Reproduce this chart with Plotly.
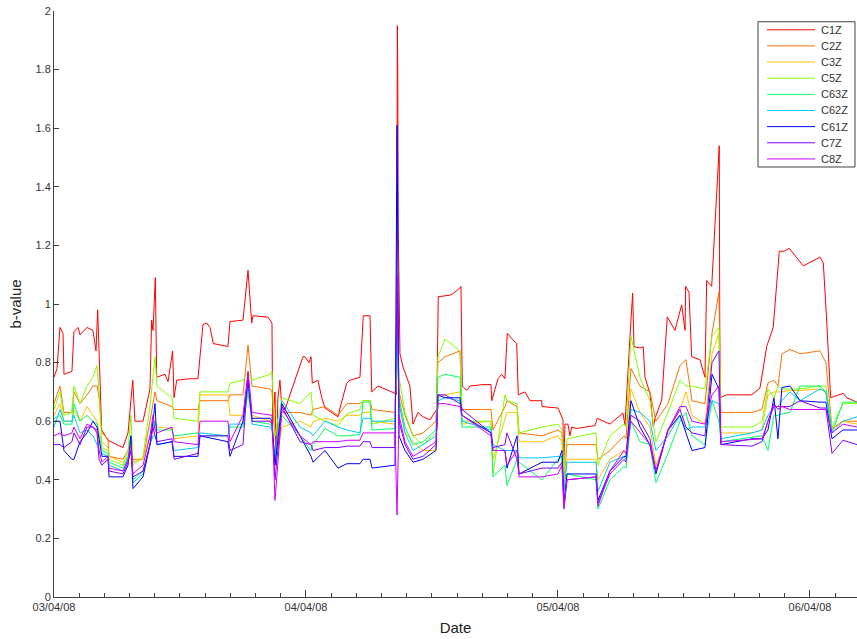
import pandas as pd
import plotly.graph_objects as go

start = pd.Timestamp("2008-04-03 00:00")

# C1Z has its own, finer time base (hours after 03/04/08 00:00)
c1z_hours = [0.0, 0.29, 0.57, 0.86, 0.95, 1.71, 1.90, 2.29, 2.48, 3.14, 3.71, 4.00, 4.16, 4.29, 4.54, 5.14,
             6.57, 7.05, 7.50, 7.71, 8.48, 9.14, 9.30, 9.43, 9.65, 9.78, 10.57, 10.86, 11.30, 11.43, 11.69,
             12.95, 13.71, 14.19, 14.54, 14.86, 15.17, 16.57, 16.76, 18.00, 18.48, 18.83, 18.95, 20.38,
             20.76, 20.83, 21.05, 21.14, 21.33, 21.52, 21.69, 22.00, 23.71, 23.90, 24.29, 24.48, 24.60,
             25.14, 25.50, 25.81, 27.05, 27.24, 27.88, 28.19, 29.14, 29.46, 30.10, 30.26, 30.86, 32.48,
             32.62, 32.70, 32.74, 32.79, 32.95, 33.24, 33.90, 34.19, 34.67, 35.14, 35.81, 36.45, 36.60,
             37.71, 38.00, 38.67, 38.76, 38.89, 39.30, 39.62, 40.86, 41.62, 41.69, 42.29, 42.64, 42.95,
             43.17, 43.71, 44.07, 44.22, 44.86, 45.33, 46.45, 46.48, 48.00, 48.48, 48.52, 48.67, 48.95,
             49.14, 49.30, 49.78, 51.52, 51.74, 52.95, 54.19, 54.38, 54.86, 55.11, 55.24, 55.81, 56.12,
             56.29, 56.76, 57.08, 57.24, 57.88, 58.41, 59.14, 59.78, 60.10, 60.16, 60.48, 60.73, 61.52,
             62.00, 62.16, 62.64, 63.36, 63.43, 64.07, 66.45, 67.24, 67.88, 68.50, 69.08, 69.52, 70.03,
             71.36, 72.95, 73.27, 73.59, 73.97, 75.17, 75.50, 76.48]
c1z = [0.75, 0.78, 0.92, 0.90, 0.76, 0.77, 0.905, 0.92, 0.895, 0.92, 0.91, 0.84, 0.98, 0.855, 0.57, 0.535,
       0.51, 0.56, 0.74, 0.60, 0.60, 0.71, 0.945, 0.91, 1.09, 0.75, 0.76, 0.735, 0.84, 0.68, 0.74,
       0.745, 0.745, 0.93, 0.935, 0.92, 0.865, 0.855, 0.94, 0.945, 1.115, 0.935, 0.96, 0.955,
       0.935, 0.59, 0.70, 0.45, 0.68, 0.74, 0.65, 0.64, 0.82, 0.82, 0.80, 0.82, 0.73,
       0.74, 0.68, 0.645, 0.615, 0.645, 0.73, 0.74, 0.75, 0.96, 0.96, 0.70, 0.72, 0.695,
       0.69, 1.95, 1.80, 1.26, 0.83, 0.785, 0.72, 0.59, 0.63, 0.615, 0.605, 0.64, 1.025,
       1.03, 1.035, 1.055, 1.06, 0.72, 0.705, 0.72, 0.725, 0.725, 0.67, 0.745, 0.76, 0.745,
       0.90, 0.877, 0.866, 0.69, 0.70, 0.67, 0.67, 0.65, 0.645, 0.605, 0.42, 0.59, 0.59,
       0.55, 0.58, 0.575, 0.585, 0.61, 0.59, 0.628, 0.587, 0.888, 1.037, 0.854, 0.85, 0.854,
       0.75, 0.695, 0.58, 0.61, 0.672, 0.956, 0.91, 0.997, 0.91, 1.06, 1.04, 0.82, 0.81,
       0.75, 1.08, 1.06, 1.54, 0.68, 0.69, 0.69, 0.713, 0.855, 0.92, 1.18, 1.18, 1.19,
       1.13, 1.16, 1.14, 0.945, 0.68, 0.695, 0.68, 0.665]

# shared time base for the other stations
hours = [0.0, 0.57, 0.95, 1.71, 1.90, 2.48, 3.14, 3.71, 4.10, 4.29,
         4.57, 5.14, 5.24, 6.57, 7.05, 7.33, 7.52, 8.48, 9.14, 9.43,
         9.62, 9.81, 11.24, 11.43, 13.71, 13.90, 16.57, 16.76, 18.00, 18.48,
         18.86, 20.57, 20.76, 21.05, 21.71, 23.43, 24.48, 24.67, 25.81, 27.05,
         27.90, 29.14, 29.43, 30.10, 30.29, 32.48, 32.67, 32.86, 33.43, 34.19,
         35.14, 36.38, 36.57, 37.24, 38.67, 38.86, 41.62, 41.81, 42.95, 43.14,
         44.10, 44.29, 46.48, 48.00, 48.38, 48.57, 48.86, 51.62, 51.81, 52.95,
         54.29, 54.48, 54.95, 55.81, 56.76, 57.33, 58.48, 59.62, 60.19, 60.76,
         62.00, 62.67, 63.33, 63.52, 66.48, 67.43, 68.00, 68.57, 68.95, 69.33,
         70.10, 71.05, 72.95, 73.52, 74.10, 75.14, 76.48]

c2z = [0.66, 0.72, 0.63, 0.63, 0.70, 0.66, 0.69, 0.72, 0.72, 0.68,
       0.56, 0.54, 0.48, 0.47, 0.50, 0.55, 0.47, 0.47, 0.60, 0.66,
       0.70, 0.67, 0.65, 0.64, 0.64, 0.67, 0.67, 0.69, 0.69, 0.86,
       0.72, 0.71, 0.70, 0.55, 0.63, 0.63, 0.62, 0.64, 0.65, 0.62,
       0.66, 0.66, 0.67, 0.67, 0.64, 0.63, 1.05, 0.70, 0.62, 0.55,
       0.56, 0.60, 0.80, 0.82, 0.84, 0.64, 0.64, 0.57, 0.65, 0.67,
       0.65, 0.56, 0.55, 0.57, 0.56, 0.40, 0.52, 0.52, 0.47, 0.50,
       0.55, 0.54, 0.78, 0.72, 0.70, 0.60, 0.66, 0.79, 0.81, 0.67,
       0.66, 0.90, 1.04, 0.63, 0.63, 0.64, 0.73, 0.74, 0.72, 0.83,
       0.845, 0.83, 0.84, 0.80, 0.575, 0.60, 0.60]
c3z = [0.62, 0.66, 0.60, 0.60, 0.64, 0.60, 0.65, 0.62, 0.60, 0.56,
       0.53, 0.51, 0.48, 0.46, 0.48, 0.52, 0.46, 0.47, 0.55, 0.60,
       0.60, 0.58, 0.575, 0.54, 0.55, 0.69, 0.69, 0.62, 0.62, 0.75,
       0.62, 0.60, 0.60, 0.45, 0.58, 0.60, 0.58, 0.60, 0.61, 0.60,
       0.62, 0.62, 0.63, 0.63, 0.60, 0.59, 0.95, 0.68, 0.56, 0.53,
       0.50, 0.50, 0.68, 0.69, 0.70, 0.59, 0.60, 0.47, 0.60, 0.63,
       0.63, 0.53, 0.53, 0.55, 0.53, 0.38, 0.47, 0.47, 0.40, 0.47,
       0.50, 0.49, 0.71, 0.63, 0.58, 0.45, 0.56, 0.64, 0.70, 0.62,
       0.59, 0.83, 0.90, 0.56, 0.56, 0.57, 0.69, 0.70, 0.70, 0.70,
       0.705, 0.705, 0.71, 0.70, 0.57, 0.60, 0.59]
c5z = [0.64, 0.70, 0.62, 0.63, 0.72, 0.66, 0.72, 0.75, 0.79, 0.70,
       0.51, 0.50, 0.47, 0.45, 0.50, 0.62, 0.45, 0.48, 0.65, 0.75,
       0.82, 0.72, 0.68, 0.61, 0.60, 0.70, 0.70, 0.73, 0.74, 0.77,
       0.74, 0.76, 0.77, 0.55, 0.68, 0.66, 0.70, 0.62, 0.60, 0.585,
       0.625, 0.64, 0.67, 0.67, 0.59, 0.61, 1.0, 0.75, 0.63, 0.55,
       0.52, 0.56, 0.82, 0.88, 0.84, 0.60, 0.60, 0.42, 0.69, 0.67,
       0.66, 0.56, 0.58, 0.59, 0.57, 0.42, 0.54, 0.56, 0.45, 0.55,
       0.59, 0.58, 0.89, 0.75, 0.67, 0.53, 0.63, 0.74, 0.72, 0.72,
       0.71, 0.89, 0.92, 0.58, 0.58, 0.60, 0.71, 0.68, 0.72, 0.71,
       0.71, 0.71, 0.72, 0.72, 0.58, 0.66, 0.66]
c63z = [0.61, 0.62, 0.59, 0.59, 0.66, 0.60, 0.62, 0.60, 0.59, 0.55,
        0.50, 0.49, 0.46, 0.44, 0.48, 0.55, 0.40, 0.43, 0.52, 0.58,
        0.60, 0.57, 0.57, 0.55, 0.56, 0.55, 0.55, 0.58, 0.58, 0.70,
        0.60, 0.59, 0.58, 0.46, 0.62, 0.55, 0.50, 0.52, 0.575, 0.55,
        0.55, 0.555, 0.665, 0.665, 0.57, 0.575, 0.90, 0.68, 0.58, 0.52,
        0.53, 0.57, 0.75, 0.76, 0.75, 0.58, 0.58, 0.41, 0.45, 0.38,
        0.47, 0.46, 0.40, 0.47, 0.48, 0.30, 0.42, 0.40, 0.30, 0.40,
        0.445, 0.44, 0.60, 0.53, 0.52, 0.39, 0.49, 0.60, 0.63, 0.55,
        0.52, 0.67, 0.60, 0.53, 0.547, 0.55, 0.50, 0.62, 0.62, 0.625,
        0.63, 0.72, 0.72, 0.70, 0.56, 0.665, 0.665]
c62z = [0.58, 0.64, 0.60, 0.60, 0.62, 0.56, 0.57, 0.55, 0.52, 0.50,
        0.49, 0.48, 0.45, 0.43, 0.47, 0.50, 0.39, 0.42, 0.52, 0.55,
        0.55, 0.52, 0.53, 0.50, 0.51, 0.56, 0.55, 0.59, 0.59, 0.72,
        0.59, 0.58, 0.57, 0.48, 0.67, 0.58, 0.56, 0.55, 0.60, 0.58,
        0.57, 0.56, 0.61, 0.61, 0.60, 0.60, 0.95, 0.66, 0.56, 0.50,
        0.52, 0.55, 0.67, 0.68, 0.67, 0.60, 0.57, 0.52, 0.50, 0.50,
        0.50, 0.475, 0.475, 0.48, 0.48, 0.36, 0.46, 0.46, 0.36, 0.46,
        0.48, 0.47, 0.64, 0.63, 0.60, 0.50, 0.55, 0.62, 0.57, 0.58,
        0.58, 0.67, 0.66, 0.54, 0.56, 0.57, 0.62, 0.65, 0.65, 0.67,
        0.70, 0.67, 0.71, 0.70, 0.56, 0.60, 0.615]
c61z = [0.60, 0.60, 0.50, 0.47, 0.47, 0.53, 0.56, 0.60, 0.58, 0.54,
        0.48, 0.48, 0.41, 0.41, 0.45, 0.55, 0.37, 0.41, 0.52, 0.60,
        0.66, 0.52, 0.53, 0.48, 0.48, 0.55, 0.53, 0.48, 0.60, 0.74,
        0.61, 0.61, 0.60, 0.45, 0.66, 0.55, 0.48, 0.46, 0.50, 0.44,
        0.455, 0.455, 0.47, 0.47, 0.44, 0.45, 1.61, 0.55, 0.50, 0.46,
        0.47, 0.50, 0.69, 0.68, 0.68, 0.62, 0.56, 0.50, 0.50, 0.44,
        0.55, 0.42, 0.46, 0.46, 0.50, 0.32, 0.42, 0.42, 0.33, 0.43,
        0.48, 0.48, 0.67, 0.58, 0.52, 0.42, 0.57, 0.62, 0.56, 0.50,
        0.51, 0.76, 0.71, 0.52, 0.54, 0.54, 0.57, 0.68, 0.54, 0.715,
        0.72, 0.67, 0.665, 0.665, 0.54, 0.57, 0.57]
c7z = [0.52, 0.52, 0.51, 0.53, 0.56, 0.52, 0.58, 0.58, 0.56, 0.47,
       0.45, 0.47, 0.43, 0.42, 0.46, 0.50, 0.41, 0.43, 0.52, 0.58,
       0.55, 0.53, 0.54, 0.47, 0.49, 0.55, 0.55, 0.50, 0.52, 0.76,
       0.60, 0.60, 0.59, 0.40, 0.65, 0.53, 0.52, 0.50, 0.51, 0.51,
       0.515, 0.515, 0.53, 0.53, 0.51, 0.51, 1.10, 0.60, 0.52, 0.47,
       0.48, 0.52, 0.69, 0.69, 0.66, 0.64, 0.56, 0.51, 0.52, 0.56,
       0.47, 0.42, 0.44, 0.44, 0.46, 0.31, 0.40, 0.41, 0.32, 0.42,
       0.47, 0.46, 0.62, 0.60, 0.54, 0.43, 0.57, 0.64, 0.58, 0.56,
       0.55, 0.80, 0.84, 0.52, 0.515, 0.53, 0.60, 0.66, 0.64, 0.65,
       0.65, 0.67, 0.645, 0.645, 0.49, 0.535, 0.52]
c8z = [0.55, 0.56, 0.55, 0.56, 0.58, 0.54, 0.59, 0.58, 0.57, 0.50,
       0.46, 0.48, 0.44, 0.43, 0.47, 0.52, 0.42, 0.45, 0.55, 0.62,
       0.57, 0.56, 0.58, 0.53, 0.52, 0.60, 0.60, 0.53, 0.62, 0.77,
       0.63, 0.62, 0.62, 0.33, 0.64, 0.55, 0.52, 0.53, 0.53, 0.53,
       0.535, 0.535, 0.56, 0.56, 0.56, 0.56, 0.28, 0.62, 0.53, 0.48,
       0.50, 0.53, 0.66, 0.66, 0.65, 0.62, 0.55, 0.50, 0.50, 0.45,
       0.50, 0.41, 0.41, 0.42, 0.45, 0.30, 0.40, 0.41, 0.31, 0.43,
       0.50, 0.49, 0.60, 0.56, 0.52, 0.43, 0.57, 0.65, 0.65, 0.60,
       0.59, 0.69, 0.72, 0.53, 0.536, 0.54, 0.60, 0.65, 0.65, 0.65,
       0.64, 0.64, 0.64, 0.64, 0.56, 0.59, 0.58]

names = ["C1Z", "C2Z", "C3Z", "C5Z", "C63Z", "C62Z", "C61Z", "C7Z", "C8Z"]
colors = ["#FF0000", "#FF7000", "#FFC000", "#80FF00", "#00FF60", "#00C8FF", "#0000FF", "#8000FF", "#D000FF"]
series = [c1z, c2z, c3z, c5z, c63z, c62z, c61z, c7z, c8z]

t_c1 = start + pd.to_timedelta(c1z_hours, unit="h")
t = start + pd.to_timedelta(hours, unit="h")

fig = go.Figure()
for name, col, vals in zip(names, colors, series):
    assert len(vals) == (len(c1z_hours) if name == "C1Z" else len(hours)), name
    fig.add_trace(go.Scatter(x=t_c1 if name == "C1Z" else t, y=vals, mode="lines", name=name,
                             line=dict(color=col, width=1), showlegend=False))

axcol = "#404040"

# matlab-style legend box, drawn by hand (plotly rows are too tall)
leg_x0, leg_x1 = 0.8767, 0.9975
leg_top, leg_bot = 0.9817, 0.7338
row = (leg_top - leg_bot) / len(names)
fig.add_shape(type="rect", xref="paper", yref="paper", x0=leg_x0, x1=leg_x1, y0=leg_bot, y1=leg_top,
              line=dict(color=axcol, width=1), fillcolor="white", layer="above")
for i, (name, col) in enumerate(zip(names, colors)):
    yy = leg_top - (i + 0.5) * row
    fig.add_shape(type="line", xref="paper", yref="paper", x0=0.8879, x1=0.9477, y0=yy, y1=yy,
                  line=dict(color=col, width=1), layer="above")
    fig.add_annotation(xref="paper", yref="paper", x=0.9527, y=yy, text=name, showarrow=False,
                       xanchor="left", yanchor="middle", font=dict(size=11, color="#333333"))

fig.update_layout(
    width=857, height=639,
    margin=dict(l=54, r=0, t=11, b=42),
    paper_bgcolor="white", plot_bgcolor="white",
    font=dict(family="Liberation Sans, Arial, sans-serif", size=11, color="#333333"),
    showlegend=False,
)
fig.update_xaxes(
    range=[start, start + pd.Timedelta(hours=76.48)],
    showgrid=False, zeroline=False, showline=True, linecolor=axcol, linewidth=1,
    ticks="inside", ticklen=7, tickcolor=axcol,
    tick0=start, dtick=86400000, tickformat="%d/%m/%y",
    minor=dict(ticks="inside", ticklen=4, tickcolor=axcol, dtick=8640000, showgrid=False),
    title=dict(text="Date", font=dict(size=15, color="#222222"), standoff=10),
)
fig.update_yaxes(
    range=[0, 2], dtick=0.2, ticklabeloverflow="allow",
    showgrid=False, zeroline=False, showline=True, linecolor=axcol, linewidth=1,
    ticks="inside", ticklen=5, tickcolor=axcol,
    title=dict(text="b-value", font=dict(size=15, color="#222222"), standoff=10),
)

# drop the default 8px body margin so the figure sits flush in the window; no modebar
fig.write_html("out.html", config={"displayModeBar": False},
               post_script="document.body.style.margin='0px';")
